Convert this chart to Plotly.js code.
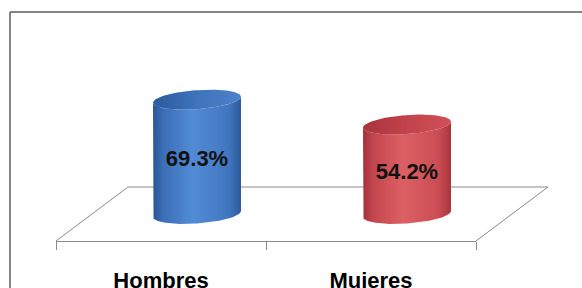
<!DOCTYPE html>
<html><head><meta charset="utf-8">
<script src="https://cdn.plot.ly/plotly-3.0.1.min.js"></script>
<style>html,body{margin:0;padding:0;background:#fff;}#chart{width:582px;height:288px;}</style>
</head><body><div id="chart"></div>
<script>
// ---- data ----
const categories = ['Hombres', 'Mujeres'];
const values = [69.3, 54.2];

// ---- style ----
const bodyScales = [
  [[0,'#2a5594'],[0.12,'#3b6fb8'],[0.45,'#528bd5'],[0.85,'#4277c0'],[1,'#2d5a9b']],
  [[0,'#a5313a'],[0.12,'#c3464e'],[0.45,'#db6063'],[0.85,'#cb4e54'],[1,'#aa343d']]
];
const capScales = [
  [[0,'#2c5a9c'],[0.5,'#3f73bb'],[1,'#4c82cb']],
  [[0,'#a9333c'],[0.5,'#c2434b'],[1,'#cf5157']]
];
const FONT = '"Liberation Sans", Arial, sans-serif';
const LINE = '#8a8a8a';

// ---- geometry (pixels) ----
const W = 582, H = 288;
const FRONT_LEFT_PX = 56, CAT_PX = 210;
const FLOOR_FRONT_PX = 241;
const FLOOR_MID_PX = 214, PX_PER_UNIT = 1.65;
const DEPTH_DX_PX = 72, DEPTH_DY_PX = 54;
const CYL_R_PX = 44, CYL_RY_PX = 9.5, CYL_SHEAR_PX = 3;

const N = categories.length;
const xr = [-FRONT_LEFT_PX / CAT_PX, (W - FRONT_LEFT_PX) / CAT_PX];
const yr = [(FLOOR_MID_PX - H) / PX_PER_UNIT, FLOOR_MID_PX / PX_PER_UNIT];
const ddx = DEPTH_DX_PX / CAT_PX, ddy = DEPTH_DY_PX / PX_PER_UNIT;
const rw = CYL_R_PX / CAT_PX, ry = CYL_RY_PX / PX_PER_UNIT, sh = CYL_SHEAR_PX / PX_PER_UNIT;

const traces = [];

// floor (back and side edges; front edge is the category axis line)
traces.push({
  type: 'scatter', mode: 'lines', hoverinfo: 'skip', showlegend: false,
  x: [0, ddx, N + ddx, N], y: [-ddy / 2, ddy / 2, ddy / 2, -ddy / 2],
  line: {color: LINE, width: 1}
});

function ellPt(xc, base, t) {
  return [xc + rw * Math.cos(t), base + ry * Math.sin(t) + sh * Math.cos(t)];
}

categories.forEach((c, i) => {
  const v = values[i];
  const xc = i + 0.5 + ddx / 2;
  const bx = [], by = [];
  let p = ellPt(xc, v, Math.PI); bx.push(p[0]); by.push(p[1]);
  const steps = 60;
  for (let k = 0; k <= steps; k++) {
    const t = Math.PI + Math.PI * k / steps;
    p = ellPt(xc, 0, t); bx.push(p[0]); by.push(p[1]);
  }
  for (let k = 0; k <= steps; k++) {
    const t = 2 * Math.PI - Math.PI * k / steps;
    p = ellPt(xc, v, t); bx.push(p[0]); by.push(p[1]);
  }
  traces.push({
    type: 'scatter', mode: 'lines', fill: 'toself', hoverinfo: 'skip', showlegend: false,
    x: bx, y: by, line: {width: 0},
    fillgradient: {type: 'horizontal', colorscale: bodyScales[i]}
  });
  const cx = [], cy = [];
  for (let k = 0; k <= 2 * steps; k++) {
    const t = 2 * Math.PI * k / (2 * steps);
    p = ellPt(xc, v, t); cx.push(p[0]); cy.push(p[1]);
  }
  traces.push({
    type: 'scatter', mode: 'lines', fill: 'toself', hoverinfo: 'skip', showlegend: false,
    x: cx, y: cy, line: {width: 0},
    fillgradient: {type: 'horizontal', colorscale: capScales[i]}
  });
});

// value labels
traces.push({
  type: 'scatter', mode: 'text', hoverinfo: 'skip', showlegend: false,
  x: categories.map((c, i) => i + 0.5 + ddx / 2),
  y: values.map(v => v / 2 - 2.5),
  text: values.map(v => v.toFixed(1) + '%'),
  textposition: 'middle center',
  textfont: {family: FONT, size: 22, color: '#111', weight: 'bold'},
  cliponaxis: false
});

// invisible trace carrying the category axis
traces.push({
  type: 'scatter', mode: 'markers', hoverinfo: 'skip', showlegend: false,
  x: categories.map((c, i) => i + 0.5), y: values,
  xaxis: 'x2', yaxis: 'y2', marker: {opacity: 0}
});

const layout = {
  width: W, height: H,
  margin: {l: 0, r: 0, t: 0, b: 0, pad: 0},
  paper_bgcolor: '#fff', plot_bgcolor: 'rgba(0,0,0,0)',
  showlegend: false,
  xaxis: {range: xr, visible: false, fixedrange: true, domain: [0, 1]},
  yaxis: {range: yr, visible: false, fixedrange: true, domain: [0, 1]},
  yaxis2: {domain: [(H - FLOOR_FRONT_PX) / H, 1], range: [0, 100], visible: false, fixedrange: true},
  xaxis2: {
    anchor: 'y2',
    domain: [FRONT_LEFT_PX / W, (FRONT_LEFT_PX + N * CAT_PX) / W],
    range: [0, N], fixedrange: true,
    tickmode: 'array', tickvals: categories.map((c, i) => i + 0.5), ticktext: categories,
    ticks: '', showgrid: false, zeroline: false,
    showline: true, linecolor: LINE, linewidth: 1,
    minor: {tickmode: 'array', tickvals: categories.map((c, i) => i).concat([N]),
            ticks: 'outside', ticklen: 8, tickcolor: LINE, tickwidth: 1, showgrid: false},
    ticklabelstandoff: 20,
    tickfont: {family: FONT, size: 22, color: '#000', weight: 'bold'}
  },
  shapes: [
    {type: 'line', xref: 'paper', yref: 'paper', x0: 10 / W, x1: 1.01, y0: (H - 12) / H, y1: (H - 12) / H,
     line: {color: '#858585', width: 2}},
    {type: 'line', xref: 'paper', yref: 'paper', x0: 10 / W, x1: 10 / W, y0: (H - 12) / H, y1: -0.05,
     line: {color: '#858585', width: 2}}
  ]
};

Plotly.newPlot('chart', traces, layout, {displayModeBar: false, staticPlot: true});
</script>
</body></html>
